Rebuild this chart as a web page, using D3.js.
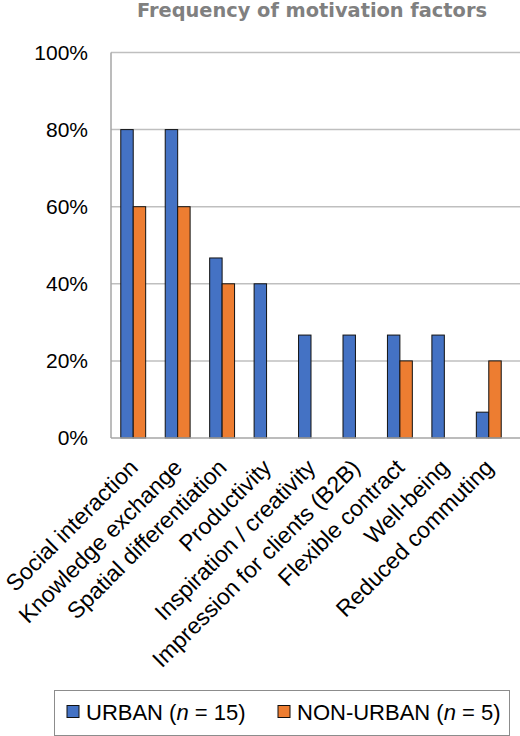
<!DOCTYPE html>
<html>
<head>
<meta charset="utf-8">
<script src="https://cdn.jsdelivr.net/npm/d3@7"></script>
<style>
  body { margin: 0; background: #fff; }
  svg { display: block; font-family: "Liberation Sans", Arial, sans-serif; }
</style>
</head>
<body>
<svg id="chart" width="520" height="736"></svg>
<script>
// data (share of respondents)
var categories = ["Social interaction", "Knowledge exchange", "Spatial differentiation",
    "Productivity", "Inspiration / creativity", "Impression for clients (B2B)",
    "Flexible contract", "Well-being", "Reduced commuting"];
var urban = [0.80, 0.80, 0.467, 0.40, 0.267, 0.267, 0.267, 0.267, 0.067];
var nonUrban = [0.60, 0.60, 0.40, 0, 0, 0, 0.20, 0, 0.20];
var seriesNames = ["URBAN", "NON-URBAN"];
var seriesN = [15, 5];
var yTicks = [0, 0.2, 0.4, 0.6, 0.8, 1.0];

var colors = ["#4472C4", "#ED7D31"];
var svg = d3.select("#chart");

// plot box (note: "top" is taken by window.top)
var pLeft = 111, pRight = 511, pTop = 52.5, pBottom = 438;

var x = d3.scaleBand()
    .domain(categories)
    .range([pLeft, pRight])
    .paddingInner(0.44)
    .paddingOuter(0.22);
var xs = d3.scaleBand()
    .domain([0, 1])
    .range([0, x.bandwidth()]);
var y = d3.scaleLinear()
    .domain([0, 1])
    .range([pBottom, pTop]);

// title
svg.append("text")
    .attr("x", 312)
    .attr("y", 17)
    .attr("text-anchor", "middle")
    .attr("font-family", "'DejaVu Sans', sans-serif")
    .attr("font-size", 19)
    .attr("font-weight", "bold")
    .attr("fill", "#808080")
    .attr("textLength", 350)
    .attr("lengthAdjust", "spacingAndGlyphs")
    .text("Frequency of motivation factors");

// gridlines
svg.append("g")
    .selectAll("line")
    .data(yTicks.filter(d => d > 0))
    .enter()
    .append("line")
    .attr("x1", pLeft)
    .attr("x2", 520)
    .attr("y1", d => y(d))
    .attr("y2", d => y(d))
    .attr("stroke", "#BFBFBF")
    .attr("stroke-width", 1.5);

// y tick labels
svg.append("g")
    .selectAll("text")
    .data(yTicks)
    .enter()
    .append("text")
    .attr("x", 88)
    .attr("y", d => y(d))
    .attr("dy", "0.35em")
    .attr("text-anchor", "end")
    .attr("font-size", 21)
    .attr("fill", "#000")
    .text(d => d3.format(".0%")(d));

// bars
var rows = categories.map((c, i) => ({ cat: c, vals: [urban[i], nonUrban[i]] }));
var groups = svg.append("g")
    .selectAll("g")
    .data(rows)
    .enter()
    .append("g")
    .attr("transform", d => "translate(" + x(d.cat) + ",0)");
groups.selectAll("rect")
    .data(d => d.vals.map((v, k) => ({ k: k, v: v })).filter(e => e.v > 0))
    .enter()
    .append("rect")
    .attr("x", d => xs(d.k))
    .attr("width", xs.bandwidth())
    .attr("y", d => y(d.v))
    .attr("height", d => y(0) - y(d.v))
    .attr("fill", d => colors[d.k])
    .attr("stroke", "#111")
    .attr("stroke-width", 1);

// axis lines
svg.append("line")
    .attr("x1", pLeft).attr("x2", pLeft)
    .attr("y1", pTop).attr("y2", pBottom)
    .attr("stroke", "#A6A6A6").attr("stroke-width", 1.5);
svg.append("line")
    .attr("x1", pLeft).attr("x2", 520)
    .attr("y1", pBottom).attr("y2", pBottom)
    .attr("stroke", "#A6A6A6").attr("stroke-width", 1.5);

// x labels, rotated
svg.append("g")
    .selectAll("text")
    .data(categories)
    .enter()
    .append("text")
    .attr("text-anchor", "end")
    .attr("font-size", 23)
    .attr("fill", "#000")
    .attr("transform", d => "translate(" + (x(d) + x.bandwidth() / 2 + 6) + "," + 469 + ") rotate(-45)")
    .text(d => d);

// legend
var lg = svg.append("g");
lg.append("rect")
    .attr("x", 54.5).attr("y", 690.5)
    .attr("width", 455).attr("height", 45)
    .attr("fill", "#fff")
    .attr("stroke", "#8C8C8C").attr("stroke-width", 1);
var legendX = [67, 278];
seriesNames.forEach(function (name, i) {
    lg.append("rect")
        .attr("x", legendX[i]).attr("y", 705.5)
        .attr("width", 12).attr("height", 12)
        .attr("fill", colors[i])
        .attr("stroke", "#111").attr("stroke-width", 1);
    var t = lg.append("text")
        .attr("x", legendX[i] + 19)
        .attr("y", 712)
        .attr("dy", "0.35em")
        .attr("font-size", 22)
        .attr("fill", "#000");
    t.append("tspan").text(name + " (");
    t.append("tspan").attr("font-style", "italic").text("n");
    t.append("tspan").text(" = " + seriesN[i] + ")");
});
</script>
</body>
</html>
